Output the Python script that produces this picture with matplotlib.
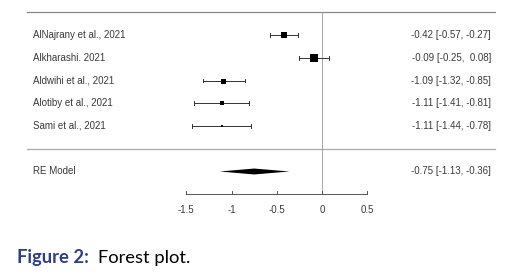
import numpy as np
import matplotlib.pyplot as plt

# DATA
studies = ['AlNajrany et al., 2021', 'Alkharashi. 2021', 'Aldwihi et al., 2021',
           'Alotiby et al., 2021', 'Sami et al., 2021']
est = [-0.42, -0.09, -1.09, -1.11, -1.11]
lo = [-0.57, -0.25, -1.32, -1.41, -1.44]
hi = [-0.27, 0.08, -0.85, -0.81, -0.78]
weights = [22.5, 23.5, 20.0, 17.5, 16.5]   # study weights (%)
re_est, re_lo, re_hi = -0.75, -1.13, -0.36
ticks = [-1.5, -1, -0.5, 0, 0.5]

# FIGURE: one axes over the whole picture, x in effect-size units
fig = plt.figure(figsize=(5.19, 2.76), dpi=100)
ax = fig.add_axes([0, 0, 1, 1])
ax.set_xlim(-322 / 90.5, (519 - 322) / 90.5)
ax.set_ylim(1 - 150 / 22.75, 1 + 126 / 22.75)
ax.axis('off')

txt = '#3a3a3a'
fs = 7.0
x_lab = (33 - 322) / 90.5
x_right = (491 - 322) / 90.5

n = len(studies)
ypos = np.arange(n, 0, -1)

# top and separator lines
ax.plot([(27 - 322) / 90.5, (495 - 322) / 90.5], [n + 1, n + 1], color='#888888', lw=0.9)
ax.plot([(27 - 322) / 90.5, (495 - 322) / 90.5], [0, 0], color='#aaaaaa', lw=0.9)
# reference line at zero
ax.plot([0, 0], [-2, n + 1], color='#999999', lw=0.6)

wmin, wmax = min(weights), max(weights)
for i in range(n):
    y = ypos[i]
    ax.plot([lo[i], hi[i]], [y, y], color='#333333', lw=0.7)
    for e in (lo[i], hi[i]):
        ax.plot([e, e], [y - 0.08, y + 0.08], color='#333333', lw=0.7)
    ms = 2.0 + (weights[i] - wmin) / (wmax - wmin) * 3.2
    ax.plot(est[i], y, marker='s', color='black', ms=ms, mew=0)
    ax.text(x_lab, y, studies[i], ha='left', va='center', fontsize=fs,
            color=txt, family='Liberation Sans')
    ax.text(x_right, y, '%.2f [%.2f, %5.2f]' % (est[i], lo[i], hi[i]),
            ha='right', va='center', fontsize=fs, color=txt, family='Liberation Sans')

# summary diamond
ry = -1
ax.fill([re_lo, re_est, re_hi, re_est], [ry, ry + 0.13, ry, ry - 0.13], color='black', lw=0)
ax.text(x_lab, ry, 'RE Model', ha='left', va='center', fontsize=fs, color=txt,
        family='Liberation Sans')
ax.text(x_right, ry, '%.2f [%.2f, %.2f]' % (re_est, re_lo, re_hi), ha='right',
        va='center', fontsize=fs, color=txt, family='Liberation Sans')

# x axis
ay = -2
ax.plot([ticks[0], ticks[-1]], [ay, ay], color='#555555', lw=0.7)
for t in ticks:
    ax.plot([t, t], [ay, ay + 0.15], color='#555555', lw=0.7)
    ax.text(t, ay - 0.7, '%g' % t, ha='center', va='center', fontsize=fs,
            color=txt, family='Liberation Sans')

# caption
fig.text(17 / 519, 1 - 258 / 276, 'Figure 2:', fontsize=13.2, fontweight='bold',
         color='#2d3f8c', family='Lato', va='center', ha='left')
fig.text(98 / 519, 1 - 258 / 276, 'Forest plot.', fontsize=13.2, color='black',
         family='Lato', va='center', ha='left')

fig.savefig('out.png', dpi=100)
